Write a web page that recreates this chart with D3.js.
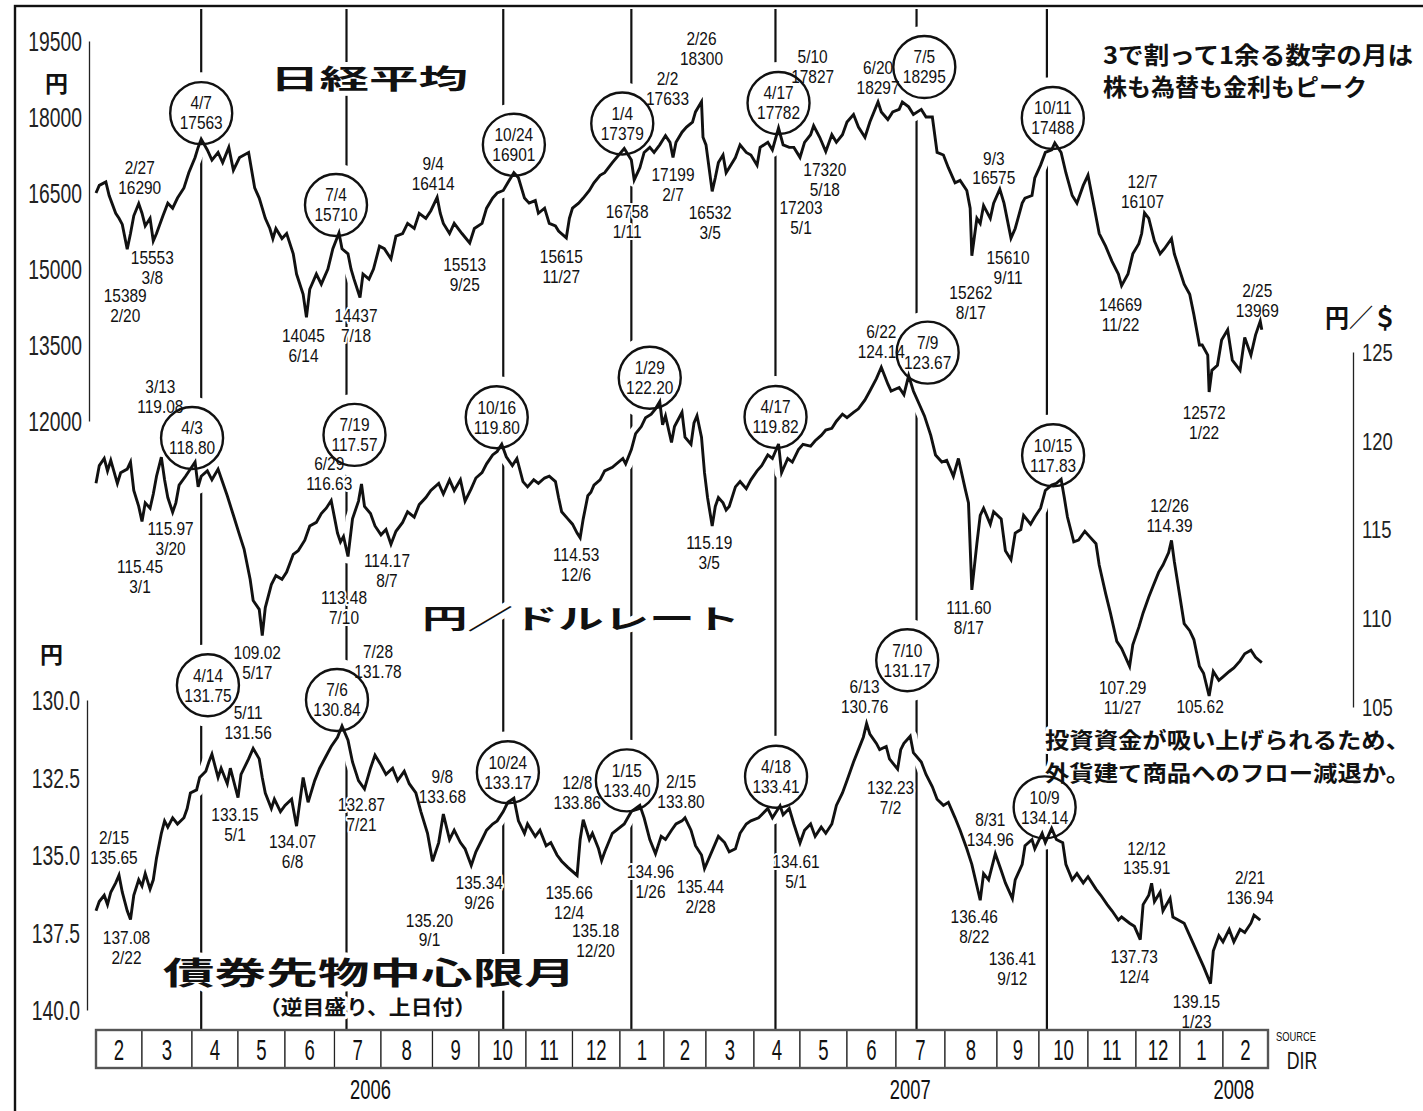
<!DOCTYPE html>
<html>
<head>
<meta charset="utf-8">
<script src="https://cdn.jsdelivr.net/npm/d3@7"></script>
<style>
  body { margin: 0; background: #fff; }
  svg { display: block; }
</style>
</head>
<body>
<svg id="chart" width="1423" height="1111"></svg>
<script>
// ---------------- data ----------------
// month cells of the time strip (first day of each month)
const monthStarts = ["2006-02-01","2006-03-01","2006-04-01","2006-05-01","2006-06-01","2006-07-01","2006-08-01",
  "2006-09-01","2006-10-01","2006-11-01","2006-12-01","2007-01-01","2007-02-01","2007-03-01","2007-04-01",
  "2007-05-01","2007-06-01","2007-07-01","2007-08-01","2007-09-01","2007-10-01","2007-11-01","2007-12-01",
  "2008-01-01","2008-02-01","2008-03-01"];
const yearLabels = [["2006-07-25","2006"],["2007-07-10","2007"],["2008-02-08","2008"]];

const nikkeiTicks = [12000,13500,15000,16500,18000,19500];
const yenTicks = [105,110,115,120,125];
const bondTicks = [130,132.5,135,137.5,140];

// Nikkei 225 (yen)
const nikkei = [["2006-02-01",16500],["2006-02-03",16650],["2006-02-07",16720],["2006-02-09",16450],["2006-02-13",16100],
["2006-02-15",16000],["2006-02-17",15880],["2006-02-20",15389],["2006-02-22",15700],["2006-02-24",16050],["2006-02-27",16290],
["2006-03-01",16100],["2006-03-03",15850],["2006-03-06",16000],["2006-03-08",15553],["2006-03-10",15700],["2006-03-14",16050],
["2006-03-17",16300],["2006-03-20",16200],["2006-03-23",16400],["2006-03-27",16600],["2006-03-30",16900],["2006-04-03",17200],
["2006-04-05",17400],["2006-04-07",17563],["2006-04-11",17350],["2006-04-14",17150],["2006-04-18",17300],["2006-04-21",17100],
["2006-04-25",17400],["2006-04-28",16950],["2006-05-02",17200],["2006-05-08",17300],["2006-05-10",16950],["2006-05-12",16600],
["2006-05-15",16400],["2006-05-17",16200],["2006-05-19",16000],["2006-05-22",15800],["2006-05-24",15600],["2006-05-26",15800],
["2006-05-30",15600],["2006-06-02",15700],["2006-06-06",15300],["2006-06-08",14900],["2006-06-12",14500],["2006-06-14",14045],
["2006-06-16",14600],["2006-06-20",14900],["2006-06-23",14700],["2006-06-27",15000],["2006-06-30",15400],["2006-07-04",15710],
["2006-07-06",15400],["2006-07-10",15300],["2006-07-12",15000],["2006-07-14",14800],["2006-07-18",14437],["2006-07-20",14900],
["2006-07-24",14800],["2006-07-27",15000],["2006-07-31",15450],["2006-08-03",15400],["2006-08-07",15200],["2006-08-10",15650],
["2006-08-14",15700],["2006-08-17",15900],["2006-08-21",15800],["2006-08-24",16100],["2006-08-28",16000],["2006-08-31",16150],
["2006-09-04",16414],["2006-09-06",16100],["2006-09-08",15900],["2006-09-12",15700],["2006-09-15",15900],["2006-09-20",15700],
["2006-09-25",15513],["2006-09-28",15800],["2006-10-03",15900],["2006-10-06",16200],["2006-10-10",16400],["2006-10-13",16500],
["2006-10-17",16550],["2006-10-20",16700],["2006-10-24",16901],["2006-10-27",16800],["2006-10-31",16400],["2006-11-03",16300],
["2006-11-07",16350],["2006-11-09",16100],["2006-11-13",16200],["2006-11-16",15900],["2006-11-20",15850],["2006-11-22",15750],
["2006-11-27",15615],["2006-11-29",16000],["2006-12-01",16200],["2006-12-05",16300],["2006-12-08",16400],["2006-12-12",16550],
["2006-12-15",16700],["2006-12-19",16850],["2006-12-22",16900],["2006-12-27",17100],["2007-01-04",17379],["2007-01-09",17150],
["2007-01-11",16758],["2007-01-15",17000],["2007-01-18",17300],["2007-01-22",17400],["2007-01-25",17300],["2007-01-29",17450],
["2007-02-02",17633],["2007-02-05",17500],["2007-02-07",17199],["2007-02-09",17500],["2007-02-13",17700],["2007-02-16",17800],
["2007-02-20",17900],["2007-02-22",18100],["2007-02-26",18300],["2007-02-27",17600],["2007-03-01",17450],["2007-03-05",16532],
["2007-03-07",16800],["2007-03-09",17100],["2007-03-12",17250],["2007-03-14",16900],["2007-03-16",17000],["2007-03-20",17200],
["2007-03-23",17450],["2007-03-27",17300],["2007-03-30",17250],["2007-04-03",17050],["2007-04-05",17400],["2007-04-10",17500],
["2007-04-13",17350],["2007-04-17",17782],["2007-04-20",17450],["2007-04-24",17400],["2007-04-27",17400],["2007-05-01",17203],
["2007-05-04",17500],["2007-05-08",17650],["2007-05-10",17827],["2007-05-14",17600],["2007-05-18",17320],["2007-05-22",17650],
["2007-05-25",17500],["2007-05-29",17650],["2007-06-01",17900],["2007-06-05",18050],["2007-06-08",17800],["2007-06-12",17600],
["2007-06-15",17900],["2007-06-20",18297],["2007-06-22",18100],["2007-06-26",17950],["2007-06-29",18100],["2007-07-03",18150],
["2007-07-05",18295],["2007-07-09",18200],["2007-07-12",18050],["2007-07-17",18150],["2007-07-20",18000],["2007-07-24",18000],
["2007-07-27",17300],["2007-07-31",17250],["2007-08-03",17000],["2007-08-07",16700],["2007-08-10",16750],["2007-08-14",16550],
["2007-08-16",16200],["2007-08-17",15262],["2007-08-20",16000],["2007-08-22",15900],["2007-08-24",16250],["2007-08-28",16000],
["2007-08-30",16300],["2007-09-03",16575],["2007-09-06",16300],["2007-09-11",15610],["2007-09-14",15800],["2007-09-19",16300],
["2007-09-21",16400],["2007-09-26",16450],["2007-09-28",16800],["2007-10-02",17050],["2007-10-05",17300],["2007-10-09",17350],
["2007-10-11",17488],["2007-10-15",17300],["2007-10-18",16900],["2007-10-22",16450],["2007-10-25",16300],["2007-10-29",16650],
["2007-11-01",16850],["2007-11-05",16200],["2007-11-08",15700],["2007-11-12",15450],["2007-11-16",15150],["2007-11-20",14900],
["2007-11-22",14669],["2007-11-26",14900],["2007-11-29",15300],["2007-12-03",15500],["2007-12-05",15700],["2007-12-07",16107],
["2007-12-10",16000],["2007-12-14",15550],["2007-12-18",15300],["2007-12-21",15400],["2007-12-26",15600],["2007-12-28",15300],
["2008-01-04",14700],["2008-01-08",14500],["2008-01-11",14100],["2008-01-15",13500],["2008-01-17",13500],["2008-01-21",13300],
["2008-01-22",12572],["2008-01-24",13000],["2008-01-28",13100],["2008-01-31",13600],["2008-02-04",13800],["2008-02-07",13200],
["2008-02-12",13000],["2008-02-15",13650],["2008-02-19",13300],["2008-02-22",13700],["2008-02-25",13969],["2008-02-26",13800]];

// yen per dollar
const yen = [["2006-02-01",117.6],["2006-02-03",118.6],["2006-02-06",119.0],["2006-02-08",118.3],["2006-02-10",118.9],
["2006-02-14",117.6],["2006-02-16",118.2],["2006-02-20",118.4],["2006-02-22",118.8],["2006-02-24",117.2],["2006-02-27",116.3],
["2006-03-01",115.45],["2006-03-03",116.5],["2006-03-06",116.2],["2006-03-08",117.0],["2006-03-10",118.0],["2006-03-13",119.08],
["2006-03-15",117.8],["2006-03-17",116.8],["2006-03-20",115.97],["2006-03-22",116.5],["2006-03-24",117.5],["2006-03-28",118.0],
["2006-04-03",118.80],["2006-04-05",117.4],["2006-04-07",118.0],["2006-04-11",118.3],["2006-04-14",117.8],["2006-04-18",118.4],
["2006-04-20",117.9],["2006-04-24",116.9],["2006-04-28",115.8],["2006-05-02",114.7],["2006-05-05",113.9],["2006-05-09",112.2],
["2006-05-11",111.0],["2006-05-15",110.5],["2006-05-17",109.02],["2006-05-19",110.6],["2006-05-23",111.9],["2006-05-26",112.4],
["2006-05-30",112.2],["2006-06-02",112.6],["2006-06-06",113.6],["2006-06-09",113.8],["2006-06-13",114.4],["2006-06-16",115.2],
["2006-06-20",115.4],["2006-06-23",115.9],["2006-06-26",116.2],["2006-06-29",116.63],["2006-07-03",114.8],["2006-07-05",114.3],
["2006-07-07",114.6],["2006-07-10",113.48],["2006-07-13",115.6],["2006-07-17",116.6],["2006-07-19",117.57],["2006-07-21",116.3],
["2006-07-25",115.9],["2006-07-28",115.2],["2006-08-01",114.7],["2006-08-04",115.0],["2006-08-07",114.17],["2006-08-10",114.9],
["2006-08-14",115.4],["2006-08-17",116.0],["2006-08-21",115.7],["2006-08-24",116.4],["2006-08-28",116.8],["2006-08-31",117.2],
["2006-09-05",117.6],["2006-09-08",117.0],["2006-09-12",117.8],["2006-09-15",117.2],["2006-09-19",117.8],["2006-09-22",116.6],
["2006-09-26",117.3],["2006-09-29",117.9],["2006-10-03",118.2],["2006-10-06",118.7],["2006-10-10",119.2],["2006-10-13",119.4],
["2006-10-16",119.80],["2006-10-19",119.1],["2006-10-23",118.6],["2006-10-26",119.0],["2006-10-30",117.7],["2006-11-02",117.4],
["2006-11-06",117.8],["2006-11-09",117.6],["2006-11-13",117.9],["2006-11-16",118.0],["2006-11-20",117.7],["2006-11-22",116.8],
["2006-11-24",116.0],["2006-11-28",115.6],["2006-12-01",115.3],["2006-12-04",114.8],["2006-12-06",114.53],["2006-12-08",115.6],
["2006-12-11",116.9],["2006-12-13",117.1],["2006-12-15",117.5],["2006-12-19",117.8],["2006-12-22",118.3],["2006-12-27",118.5],
["2007-01-03",119.0],["2007-01-05",118.7],["2007-01-09",119.5],["2007-01-12",120.4],["2007-01-16",120.8],["2007-01-19",121.3],
["2007-01-23",121.5],["2007-01-26",121.8],["2007-01-29",122.20],["2007-01-31",120.9],["2007-02-02",121.4],["2007-02-06",119.9],
["2007-02-08",120.8],["2007-02-13",121.6],["2007-02-15",120.2],["2007-02-19",119.8],["2007-02-21",121.0],["2007-02-23",121.4],
["2007-02-26",120.2],["2007-02-28",118.2],["2007-03-02",116.8],["2007-03-05",115.19],["2007-03-07",116.3],["2007-03-09",116.8],
["2007-03-12",116.5],["2007-03-14",116.1],["2007-03-16",116.3],["2007-03-20",117.4],["2007-03-23",117.7],["2007-03-27",117.3],
["2007-03-30",117.8],["2007-04-03",118.3],["2007-04-06",118.6],["2007-04-10",119.2],["2007-04-13",119.0],["2007-04-17",119.82],
["2007-04-19",118.2],["2007-04-23",119.0],["2007-04-26",118.8],["2007-04-30",119.5],["2007-05-03",119.8],["2007-05-08",119.7],
["2007-05-11",120.0],["2007-05-15",120.3],["2007-05-18",120.6],["2007-05-22",120.7],["2007-05-25",121.1],["2007-05-29",121.5],
["2007-06-01",121.3],["2007-06-05",121.6],["2007-06-08",121.8],["2007-06-12",122.3],["2007-06-15",122.8],["2007-06-19",123.5],
["2007-06-22",124.14],["2007-06-26",123.2],["2007-06-28",122.8],["2007-07-03",123.0],["2007-07-06",122.6],["2007-07-09",123.67],
["2007-07-12",122.8],["2007-07-16",122.0],["2007-07-19",121.4],["2007-07-23",120.3],["2007-07-26",119.2],["2007-07-30",118.8],
["2007-08-02",118.9],["2007-08-06",118.0],["2007-08-09",119.0],["2007-08-13",117.3],["2007-08-15",116.5],["2007-08-17",111.60],
["2007-08-20",114.2],["2007-08-22",115.8],["2007-08-24",116.2],["2007-08-28",115.3],["2007-08-30",116.0],["2007-09-04",115.6],
["2007-09-07",113.8],["2007-09-11",113.3],["2007-09-14",114.8],["2007-09-18",115.0],["2007-09-20",115.8],["2007-09-25",115.3],
["2007-09-28",115.7],["2007-10-02",116.2],["2007-10-05",117.2],["2007-10-09",117.5],["2007-10-12",117.6],["2007-10-15",117.83],
["2007-10-17",116.8],["2007-10-19",115.7],["2007-10-23",114.3],["2007-10-26",114.4],["2007-10-30",114.9],["2007-11-02",114.6],
["2007-11-06",114.2],["2007-11-08",113.0],["2007-11-12",111.4],["2007-11-15",110.3],["2007-11-19",108.7],["2007-11-22",108.3],
["2007-11-27",107.29],["2007-11-29",108.5],["2007-12-03",109.5],["2007-12-06",110.3],["2007-12-10",111.2],["2007-12-13",111.8],
["2007-12-17",112.6],["2007-12-20",113.0],["2007-12-24",113.7],["2007-12-26",114.39],["2007-12-28",113.2],["2008-01-04",109.7],
["2008-01-08",109.3],["2008-01-11",108.8],["2008-01-15",107.3],["2008-01-18",106.9],["2008-01-22",105.62],["2008-01-25",107.0],
["2008-01-29",106.5],["2008-02-01",106.7],["2008-02-05",107.0],["2008-02-08",107.2],["2008-02-12",107.6],["2008-02-15",108.0],
["2008-02-19",108.2],["2008-02-22",107.8],["2008-02-26",107.5]];

// JGB futures, lead contract (yen, inverted scale)
const bond = [["2006-02-01",136.8],["2006-02-03",136.5],["2006-02-06",136.3],["2006-02-08",136.6],["2006-02-10",136.2],
["2006-02-13",135.9],["2006-02-15",135.65],["2006-02-17",136.2],["2006-02-20",136.8],["2006-02-22",137.08],["2006-02-24",136.3],
["2006-02-27",135.8],["2006-03-01",136.0],["2006-03-03",135.6],["2006-03-06",136.1],["2006-03-08",135.8],["2006-03-10",135.1],
["2006-03-13",134.3],["2006-03-15",133.9],["2006-03-17",134.1],["2006-03-20",133.8],["2006-03-23",134.0],["2006-03-27",133.8],
["2006-03-29",133.5],["2006-03-31",133.0],["2006-04-04",132.9],["2006-04-06",132.5],["2006-04-10",132.3],["2006-04-12",132.0],
["2006-04-14",131.75],["2006-04-18",132.5],["2006-04-20",132.2],["2006-04-24",132.7],["2006-04-26",132.2],["2006-05-01",133.15],
["2006-05-03",132.4],["2006-05-08",131.9],["2006-05-11",131.56],["2006-05-15",131.9],["2006-05-17",132.5],["2006-05-19",133.0],
["2006-05-23",133.5],["2006-05-25",133.2],["2006-05-29",133.6],["2006-06-01",133.4],["2006-06-05",133.2],["2006-06-08",134.07],
["2006-06-12",132.5],["2006-06-15",133.3],["2006-06-19",132.6],["2006-06-22",132.2],["2006-06-26",131.8],["2006-06-29",131.5],
["2006-07-03",131.2],["2006-07-06",130.84],["2006-07-10",131.3],["2006-07-13",132.0],["2006-07-17",132.6],["2006-07-21",132.87],
["2006-07-25",132.2],["2006-07-28",131.78],["2006-08-01",132.1],["2006-08-04",132.4],["2006-08-08",132.2],["2006-08-11",132.6],
["2006-08-15",132.3],["2006-08-18",132.7],["2006-08-22",133.0],["2006-08-25",133.6],["2006-08-29",134.3],["2006-09-01",135.20],
["2006-09-05",134.6],["2006-09-08",133.68],["2006-09-12",134.5],["2006-09-15",134.2],["2006-09-19",134.6],["2006-09-22",134.8],
["2006-09-26",135.34],["2006-09-29",134.9],["2006-10-03",134.5],["2006-10-06",134.2],["2006-10-10",134.0],["2006-10-13",133.9],
["2006-10-17",133.6],["2006-10-20",133.3],["2006-10-24",133.17],["2006-10-27",133.9],["2006-10-31",134.3],["2006-11-02",134.0],
["2006-11-07",134.4],["2006-11-10",134.2],["2006-11-14",134.7],["2006-11-17",134.6],["2006-11-21",135.0],["2006-11-24",135.2],
["2006-11-28",135.4],["2006-12-04",135.66],["2006-12-06",134.5],["2006-12-08",133.86],["2006-12-12",134.5],["2006-12-14",134.3],
["2006-12-18",134.8],["2006-12-20",135.18],["2006-12-22",134.9],["2006-12-27",134.3],["2007-01-04",134.0],["2007-01-09",133.6],
["2007-01-12",133.5],["2007-01-15",133.40],["2007-01-18",133.8],["2007-01-22",134.5],["2007-01-26",134.96],["2007-01-30",134.4],
["2007-02-02",134.5],["2007-02-06",134.2],["2007-02-09",134.0],["2007-02-13",133.9],["2007-02-15",133.80],["2007-02-19",134.2],
["2007-02-22",134.7],["2007-02-26",135.0],["2007-02-28",135.44],["2007-03-09",134.4],["2007-03-13",134.6],["2007-03-16",134.9],
["2007-03-20",134.8],["2007-03-23",134.3],["2007-03-27",134.0],["2007-03-30",133.9],["2007-04-04",133.8],["2007-04-06",133.7],
["2007-04-10",133.5],["2007-04-13",133.8],["2007-04-18",133.41],["2007-04-20",133.7],["2007-04-24",133.5],["2007-04-27",134.0],
["2007-05-01",134.61],["2007-05-04",134.2],["2007-05-08",134.0],["2007-05-11",134.4],["2007-05-15",134.1],["2007-05-18",134.3],
["2007-05-22",134.0],["2007-05-25",133.4],["2007-05-29",133.0],["2007-06-01",132.6],["2007-06-05",132.0],["2007-06-08",131.6],
["2007-06-11",131.2],["2007-06-13",130.76],["2007-06-15",131.1],["2007-06-19",131.4],["2007-06-21",131.6],["2007-06-25",131.5],
["2007-06-27",131.9],["2007-07-02",132.23],["2007-07-04",131.6],["2007-07-06",131.4],["2007-07-10",131.17],["2007-07-12",131.7],
["2007-07-17",132.0],["2007-07-20",132.4],["2007-07-24",132.8],["2007-07-27",133.2],["2007-07-31",133.4],["2007-08-03",133.3],
["2007-08-07",133.8],["2007-08-10",134.2],["2007-08-14",134.8],["2007-08-17",135.3],["2007-08-22",136.46],["2007-08-24",135.6],
["2007-08-27",135.8],["2007-08-31",134.96],["2007-09-04",135.5],["2007-09-07",135.9],["2007-09-12",136.41],["2007-09-14",135.8],
["2007-09-19",135.3],["2007-09-21",134.7],["2007-09-26",134.5],["2007-09-28",134.8],["2007-10-03",134.3],["2007-10-05",134.6],
["2007-10-09",134.14],["2007-10-12",134.5],["2007-10-16",134.6],["2007-10-18",135.3],["2007-10-22",135.8],["2007-10-25",135.6],
["2007-10-29",135.9],["2007-11-01",135.7],["2007-11-06",136.1],["2007-11-09",136.3],["2007-11-13",136.6],["2007-11-16",136.8],
["2007-11-20",137.1],["2007-11-22",137.0],["2007-11-27",137.2],["2007-11-30",137.3],["2007-12-04",137.73],["2007-12-06",136.6],
["2007-12-10",136.3],["2007-12-12",135.91],["2007-12-14",136.5],["2007-12-18",136.2],["2007-12-20",136.8],["2007-12-25",136.4],
["2007-12-27",137.0],["2008-01-04",137.2],["2008-01-08",137.6],["2008-01-11",137.9],["2008-01-15",138.3],["2008-01-18",138.6],
["2008-01-23",139.15],["2008-01-25",138.1],["2008-01-29",137.6],["2008-02-01",137.8],["2008-02-05",137.4],["2008-02-08",137.8],
["2008-02-12",137.4],["2008-02-15",137.5],["2008-02-19",137.2],["2008-02-21",136.94],["2008-02-25",137.1]];

// circled peaks (months 1, 4, 7, 10)
const nikkeiPeaks = [["2006-04-07",17563],["2006-07-04",15710],["2006-10-24",16901],["2007-01-04",17379],
  ["2007-04-17",17782],["2007-07-05",18295],["2007-10-11",17488]];
const yenPeaks = [["2006-04-03",118.80],["2006-07-19",117.57],["2006-10-16",119.80],["2007-01-29",122.20],
  ["2007-04-17",119.82],["2007-07-09",123.67],["2007-10-15",117.83]];
const bondPeaks = [["2006-04-14",131.75],["2006-07-06",130.84],["2006-10-24",133.17],["2007-01-15",133.40],
  ["2007-04-18",133.41],["2007-07-10",131.17],["2007-10-09",134.14]];

// reference lines through the peak months
const peakLineDates = ["2006-04-07","2006-07-09","2006-10-17","2007-01-09","2007-04-15","2007-07-14","2007-10-06"];

// other labelled turning points
const nikkeiNotes = [["2006-02-27",16290],["2006-03-08",15553],["2006-02-20",15389],["2006-06-14",14045],["2006-07-18",14437],
  ["2006-09-04",16414],["2006-09-25",15513],["2006-11-27",15615],["2007-01-11",16758],["2007-02-02",17633],["2007-02-26",18300],
  ["2007-02-07",17199],["2007-03-05",16532],["2007-05-10",17827],["2007-05-18",17320],["2007-05-01",17203],["2007-06-20",18297],
  ["2007-09-03",16575],["2007-09-11",15610],["2007-08-17",15262],["2007-12-07",16107],["2007-11-22",14669],["2008-01-22",12572],
  ["2008-02-25",13969]];
const yenNotes = [["2006-03-13",119.08],["2006-03-20",115.97],["2006-03-01",115.45],["2006-06-29",116.63],["2006-07-10",113.48],
  ["2006-08-07",114.17],["2006-05-17",109.02],["2006-12-06",114.53],["2007-03-05",115.19],["2007-06-22",124.14],
  ["2007-08-17",111.60],["2007-12-26",114.39],["2007-11-27",107.29],["2008-01-22",105.62]];
const bondNotes = [["2006-02-15",135.65],["2006-02-22",137.08],["2006-05-11",131.56],["2006-05-01",133.15],["2006-06-08",134.07],
  ["2006-07-28",131.78],["2006-07-21",132.87],["2006-09-08",133.68],["2006-09-26",135.34],["2006-09-01",135.20],
  ["2006-12-08",133.86],["2006-12-04",135.66],["2006-12-20",135.18],["2007-01-26",134.96],["2007-02-15",133.80],
  ["2007-02-28",135.44],["2007-05-01",134.61],["2007-06-13",130.76],["2007-07-02",132.23],["2007-08-31",134.96],
  ["2007-08-22",136.46],["2007-09-12",136.41],["2007-12-12",135.91],["2007-12-04",137.73],["2008-02-21",136.94],
  ["2008-01-23",139.15]];

// ---------------- layout ----------------
const W = 1423, H = 1111;
const monthEdges = [96,142,192,238,285,334.5,381,432.5,479,526,572.5,620,664,706,754,800,847,896,945,997,1039,1088,1136,1180,1223,1268];
const stripTop = 1030, stripBottom = 1068;
const circleR = 31;
// placement of each circle relative to its peak point [dx, dy]
const nikkeiCircleOff = [[0,-26],[-3,-28],[0,-28],[-2,-25],[0,-25],[22,-35],[-2,-25]];
const yenCircleOff = [[-3,-24],[-7,-49],[-5,-27],[-10,-24],[-3,-27],[19,-23],[-8,-24]];
const bondCircleOff = [[-4,-69],[-5,-26],[-6,-26],[-13,-25],[-4,-29],[-3,-76],[-7,-21]];
// label placement [dx, dy(, lines)] relative to the labelled point
const nikkeiNoteOff = [[1,-36],[-1,17],[-2,46],[-3,18],[-4,18],[-4,-34],[-5,22],[-5,19],[-7,32],[2,-57],[0,-63],[0,17],
  [-2,21],[-1,-69],[-1,18],[1,50],[0,-34],[-6,-31],[-3,20],[-1,37],[-2,-31],[-1,19],[-5,21],[-3,-31]];
const yenNoteOff = [[-1,-70],[-2,16],[-2,45],[-2,-37],[-4,41],[-4,16],[-5,17],[-4,17],[-3,17],[0,-36],[-3,18],[-2,-35],
  [-7,21],[-9,11,1]];
const bondNoteOff = [[-5,-37],[-4,18],[-5,-36],[-3,17],[-4,16],[3,-103],[-3,16],[-1,-37],[8,17],[-3,59],[-6,-37],[-8,17],
  [-6,70],[-5,18],[-4,-36],[-4,18],[-4,19],[-2,-37],[-7,19],[-5,-34],[-6,16],[0,60],[-5,-35],[-6,17],[-4,-37],[-14,18]];

const NUM_FONT = "'Liberation Sans', Arial, sans-serif";
const JP_FONT = "'Noto Sans CJK JP', 'Noto Sans CJK SC', sans-serif";
const INK = "#111";
const LABEL_SIZE = 18, LABEL_SX = 0.86, LINE_GAP = 20;

// ---------------- scales ----------------
const parse = d3.timeParse("%Y-%m-%d");
const x = d3.scaleTime().domain(monthStarts.map(parse)).range(monthEdges);
const yN = d3.scaleLinear().domain([12000, 19500]).range([421, 41]);
const yY = d3.scaleLinear().domain([105, 125]).range([707, 352]);
const yB = d3.scaleLinear().domain([130, 140]).range([700, 1010]);
const md = s => { const d = parse(s); return (d.getMonth() + 1) + "/" + d.getDate(); };
const fmtN = d3.format("d"), fmt2 = d3.format(".2f");

const svg = d3.select("#chart");
svg.append("rect").attr("width", W).attr("height", H).attr("fill", "#fff");

// outer frame (left and top edges visible)
svg.append("rect")
  .attr("x", 15).attr("y", 6).attr("width", W + 20).attr("height", H + 20)
  .attr("fill", "none").attr("stroke", INK).attr("stroke-width", 2.4);

const gLines = svg.append("g");   // peak-month reference lines
const gHalo = svg.append("g");    // white knock-outs that break the reference lines
const gAxes = svg.append("g");
const gText = svg.append("g");
const gData = svg.append("g");
const gCircles = svg.append("g");
const gTop = svg.append("g");

// condensed number text (one or more stacked lines); an optional white outline,
// painted under the glyphs, breaks the reference lines behind it
function num(layer, x0, y0, lines, size, sx, anchor = "middle", halo = 4) {
  const t = layer.append("text")
    .attr("transform", `translate(${x0},${y0}) scale(${sx},1)`)
    .attr("text-anchor", anchor)
    .attr("font-family", NUM_FONT).attr("font-size", size).attr("fill", INK);
  [].concat(lines).forEach((s, k) => {
    t.append("tspan").attr("x", 0).attr("dy", k === 0 ? "0.35em" : LINE_GAP).text(s);
  });
  if (halo > 0) t.attr("stroke", "#fff").attr("stroke-width", halo)
    .attr("stroke-linejoin", "round").attr("paint-order", "stroke");
  return t;
}

// bold Japanese text, optionally stretched to a given width
function jp(x0, y0, s, size, len, halo = 8) {
  const t = gText.append("text").attr("x", x0).attr("y", y0).attr("dominant-baseline", "central")
    .attr("font-family", JP_FONT).attr("font-weight", 700).attr("font-size", size).attr("fill", INK).text(s);
  if (len) t.attr("textLength", len).attr("lengthAdjust", "spacingAndGlyphs");
  if (halo > 0) t.attr("stroke", "#fff").attr("stroke-width", halo)
    .attr("stroke-linejoin", "round").attr("paint-order", "stroke");
}

// ---------------- peak reference lines ----------------
gLines.selectAll("line").data(peakLineDates).join("line")
  .attr("x1", d => x(parse(d))).attr("x2", d => x(parse(d)))
  .attr("y1", 9).attr("y2", stripTop)
  .attr("stroke", INK).attr("stroke-width", 2.2);

// ---------------- series ----------------
[[nikkei, yN], [yen, yY], [bond, yB]].forEach(([data, y]) => {
  const line = d3.line().x(d => x(parse(d[0]))).y(d => y(d[1]));
  gHalo.append("path").attr("d", line(data)).attr("fill", "none")
    .attr("stroke", "#fff").attr("stroke-width", 14).attr("stroke-linejoin", "round");
  gData.append("path").attr("d", line(data)).attr("fill", "none")
    .attr("stroke", INK).attr("stroke-width", 2.9).attr("stroke-linejoin", "miter");
});

// ---------------- circled peaks ----------------
function circles(peaks, offs, y, fmt) {
  peaks.forEach((p, i) => {
    const cx = x(parse(p[0])) + offs[i][0], cy = y(p[1]) + offs[i][1];
    gHalo.append("circle").attr("cx", cx).attr("cy", cy).attr("r", circleR)
      .attr("fill", "#fff").attr("stroke", "#fff").attr("stroke-width", 20);
    gCircles.append("circle").attr("cx", cx).attr("cy", cy).attr("r", circleR)
      .attr("fill", "none").attr("stroke", INK).attr("stroke-width", 2.4);
    num(gText, cx, cy - 10, [md(p[0]), fmt(p[1])], LABEL_SIZE, LABEL_SX, "middle", 0);
  });
}
circles(nikkeiPeaks, nikkeiCircleOff, yN, fmtN);
circles(yenPeaks, yenCircleOff, yY, fmt2);
circles(bondPeaks, bondCircleOff, yB, fmt2);

// ---------------- turning-point labels ----------------
function notes(list, offs, y, fmt) {
  list.forEach((p, i) => {
    const [dx, dy, n] = offs[i];
    const px = x(parse(p[0])) + dx, py = y(p[1]) + dy;
    const lines = n === 1 ? [fmt(p[1])] : (dy < 0 ? [md(p[0]), fmt(p[1])] : [fmt(p[1]), md(p[0])]);
    num(gText, px, py, lines, LABEL_SIZE, LABEL_SX);
  });
}
notes(nikkeiNotes, nikkeiNoteOff, yN, fmtN);
notes(yenNotes, yenNoteOff, yY, fmt2);
notes(bondNotes, bondNoteOff, yB, fmt2);

// ---------------- axes ----------------
function styleAxis(g, size, sx, anchor, pad) {
  g.select(".domain").attr("stroke", "#222").attr("stroke-width", 1.3);
  g.selectAll(".tick line").remove();
  g.selectAll(".tick text")
    .attr("x", null).attr("dy", "0.35em")
    .attr("transform", `translate(${pad},0) scale(${sx},1)`)
    .attr("text-anchor", anchor)
    .attr("font-family", NUM_FONT).attr("font-size", size).attr("fill", "#222");
}
gAxes.append("g").attr("transform", "translate(89,0)")
  .call(d3.axisLeft(yN).tickValues(nikkeiTicks).tickFormat(fmtN).tickSizeOuter(0))
  .call(g => styleAxis(g, 28, 0.69, "end", -7));
gAxes.append("g").attr("transform", "translate(87,0)")
  .call(d3.axisLeft(yB).tickValues(bondTicks).tickFormat(d3.format(".1f")).tickSizeOuter(0))
  .call(g => styleAxis(g, 28, 0.69, "end", -7));
gAxes.append("g").attr("transform", "translate(1353,0)")
  .call(d3.axisRight(yY).tickValues(yenTicks).tickFormat(fmtN).tickSizeOuter(0))
  .call(g => styleAxis(g, 24, 0.77, "start", 9));

// unit labels
jp(45, 82, "円", 23, null, 0);
jp(40, 653, "円", 23, null, 0);
jp(1325, 316, "円／＄", 25, 72, 0);

// ---------------- titles and notes ----------------
jp(270, 77, "日経平均", 27, 198, 10);
jp(422, 617, "円／ドルレート", 27, 318, 10);
jp(163, 970, "債券先物中心限月", 31, 413, 10);
jp(259, 1006, "（逆目盛り、上日付）", 20, 217, 6);
jp(1103, 53, "3で割って1余る数字の月は", 24, 310, 6);
jp(1103, 85, "株も為替も金利もピーク", 24, 264, 6);
jp(1045, 738, "投資資金が吸い上げられるため、", 22, 365, 6);
jp(1045, 771, "外貨建て商品へのフロー減退か。", 22, 365, 6);

// ---------------- month strip ----------------
const cells = monthStarts.slice(0, -1).map((s, i) => ({ a: parse(s), b: parse(monthStarts[i + 1]) }));
gTop.append("g").selectAll("rect").data(cells).join("rect")
  .attr("x", d => x(d.a)).attr("y", stripTop)
  .attr("width", d => x(d.b) - x(d.a)).attr("height", stripBottom - stripTop)
  .attr("fill", "#fff").attr("stroke", "#222").attr("stroke-width", 1.2);
gTop.append("rect")
  .attr("x", x(parse(monthStarts[0]))).attr("y", stripTop)
  .attr("width", x(parse(monthStarts[monthStarts.length - 1])) - x(parse(monthStarts[0])))
  .attr("height", stripBottom - stripTop)
  .attr("fill", "none").attr("stroke", "#555").attr("stroke-width", 2.4);
cells.forEach(d => num(gTop, (x(d.a) + x(d.b)) / 2, (stripTop + stripBottom) / 2, String(d.a.getMonth() + 1), 30, 0.62, "middle", 0));
yearLabels.forEach(([d, s]) => num(gTop, x(parse(d)), 1090, s, 27, 0.68, "middle", 0));

// source credit
num(gTop, 1296, 1037, "SOURCE", 12, 0.78, "middle", 0);
num(gTop, 1302, 1061, "DIR", 24, 0.74, "middle", 0);
</script>
</body>
</html>
